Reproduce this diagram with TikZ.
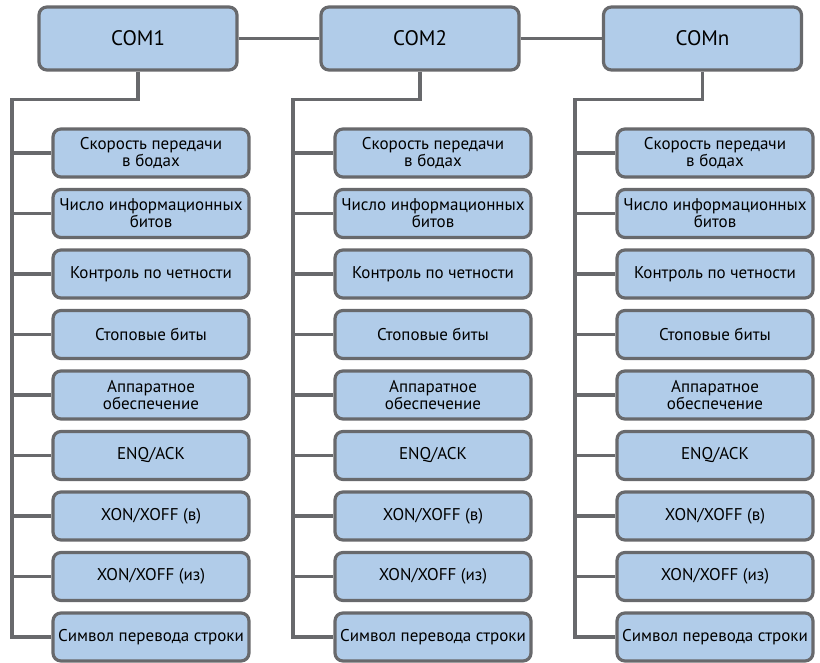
\documentclass[tikz,border=0pt]{standalone}
\usepackage{fontspec}
\setmainfont{PT Sans}
\usepackage{tikz}
\usetikzlibrary{positioning}
\usepackage{xcolor}
\definecolor{boxblue}{RGB}{177,204,233}
\definecolor{linegray}{RGB}{104,105,108}

\tikzset{
  portbox/.style={draw=linegray,fill=boxblue,line width=3.2pt,rounded corners=8pt,
    minimum width=198pt,minimum height=63pt,inner sep=0pt,
    font=\fontsize{21}{22}\selectfont},
  parbox/.style={draw=linegray,fill=boxblue,line width=3.2pt,rounded corners=8pt,
    minimum width=196pt,minimum height=48pt,inner sep=0pt,align=center,
    font=\fontsize{17}{15.5}\selectfont},
  link/.style={draw=linegray,line width=3.2pt}
}

\begin{document}
\begin{tikzpicture}[x=1pt,y=-1pt]
        \useasboundingbox (0,0) rectangle (820,663);
        \def\ra{153}
        \def\dy{60.5}
        % top row
        \node[portbox] (com1) at (138,38.5) {COM1};
        \node[portbox] (com2) at (420,38.5) {COM2};
        \node[portbox] (comn) at (702.5,38.5) {COMn};
        \draw[link] (com1) -- (com2);
        \draw[link] (com2) -- (comn);
        % column 1
        \node[parbox] (c1r1) at (151,\ra)       {Скорость передачи\\в бодах};
        \node[parbox] (c1r2) at (151,\ra+\dy)   {Число информационных\\битов};
        \node[parbox] (c1r3) at (151,\ra+2*\dy) {Контроль по четности};
        \node[parbox] (c1r4) at (151,\ra+3*\dy) {Стоповые биты};
        \node[parbox] (c1r5) at (151,\ra+4*\dy) {Аппаратное\\обеспечение};
        \node[parbox] (c1r6) at (151,\ra+5*\dy) {ENQ/ACK};
        \node[parbox] (c1r7) at (151,\ra+6*\dy) {XON/XOFF (в)};
        \node[parbox] (c1r8) at (151,\ra+7*\dy) {XON/XOFF (из)};
        \node[parbox] (c1r9) at (151,\ra+8*\dy) {Символ перевода строки};
        \coordinate (t1) at (12,99.5);
        \draw[link] (com1.south) |- (t1) |- (c1r9.west);
        \draw[link] (t1 |- c1r1.west) -- (c1r1.west);
        \draw[link] (t1 |- c1r2.west) -- (c1r2.west);
        \draw[link] (t1 |- c1r3.west) -- (c1r3.west);
        \draw[link] (t1 |- c1r4.west) -- (c1r4.west);
        \draw[link] (t1 |- c1r5.west) -- (c1r5.west);
        \draw[link] (t1 |- c1r6.west) -- (c1r6.west);
        \draw[link] (t1 |- c1r7.west) -- (c1r7.west);
        \draw[link] (t1 |- c1r8.west) -- (c1r8.west);
        % column 2
        \node[parbox] (c2r1) at (433,\ra)       {Скорость передачи\\в бодах};
        \node[parbox] (c2r2) at (433,\ra+\dy)   {Число информационных\\битов};
        \node[parbox] (c2r3) at (433,\ra+2*\dy) {Контроль по четности};
        \node[parbox] (c2r4) at (433,\ra+3*\dy) {Стоповые биты};
        \node[parbox] (c2r5) at (433,\ra+4*\dy) {Аппаратное\\обеспечение};
        \node[parbox] (c2r6) at (433,\ra+5*\dy) {ENQ/ACK};
        \node[parbox] (c2r7) at (433,\ra+6*\dy) {XON/XOFF (в)};
        \node[parbox] (c2r8) at (433,\ra+7*\dy) {XON/XOFF (из)};
        \node[parbox] (c2r9) at (433,\ra+8*\dy) {Символ перевода строки};
        \coordinate (t2) at (293,99.5);
        \draw[link] (com2.south) |- (t2) |- (c2r9.west);
        \draw[link] (t2 |- c2r1.west) -- (c2r1.west);
        \draw[link] (t2 |- c2r2.west) -- (c2r2.west);
        \draw[link] (t2 |- c2r3.west) -- (c2r3.west);
        \draw[link] (t2 |- c2r4.west) -- (c2r4.west);
        \draw[link] (t2 |- c2r5.west) -- (c2r5.west);
        \draw[link] (t2 |- c2r6.west) -- (c2r6.west);
        \draw[link] (t2 |- c2r7.west) -- (c2r7.west);
        \draw[link] (t2 |- c2r8.west) -- (c2r8.west);
        % column n
        \node[parbox] (c3r1) at (715,\ra)       {Скорость передачи\\в бодах};
        \node[parbox] (c3r2) at (715,\ra+\dy)   {Число информационных\\битов};
        \node[parbox] (c3r3) at (715,\ra+2*\dy) {Контроль по четности};
        \node[parbox] (c3r4) at (715,\ra+3*\dy) {Стоповые биты};
        \node[parbox] (c3r5) at (715,\ra+4*\dy) {Аппаратное\\обеспечение};
        \node[parbox] (c3r6) at (715,\ra+5*\dy) {ENQ/ACK};
        \node[parbox] (c3r7) at (715,\ra+6*\dy) {XON/XOFF (в)};
        \node[parbox] (c3r8) at (715,\ra+7*\dy) {XON/XOFF (из)};
        \node[parbox] (c3r9) at (715,\ra+8*\dy) {Символ перевода строки};
        \coordinate (t3) at (575,99.5);
        \draw[link] (comn.south) |- (t3) |- (c3r9.west);
        \draw[link] (t3 |- c3r1.west) -- (c3r1.west);
        \draw[link] (t3 |- c3r2.west) -- (c3r2.west);
        \draw[link] (t3 |- c3r3.west) -- (c3r3.west);
        \draw[link] (t3 |- c3r4.west) -- (c3r4.west);
        \draw[link] (t3 |- c3r5.west) -- (c3r5.west);
        \draw[link] (t3 |- c3r6.west) -- (c3r6.west);
        \draw[link] (t3 |- c3r7.west) -- (c3r7.west);
        \draw[link] (t3 |- c3r8.west) -- (c3r8.west);
      \end{tikzpicture}
\end{document}
